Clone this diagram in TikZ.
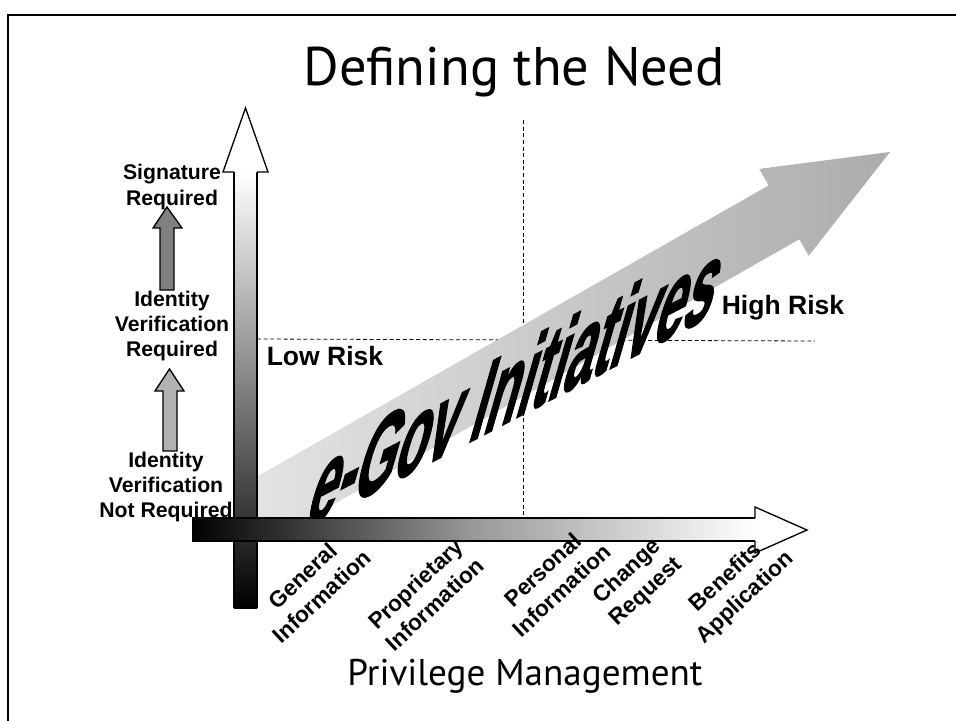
\documentclass[tikz,border=0pt]{standalone}
\usepackage{fontspec}
\setmainfont{Liberation Sans}
\newfontfamily\slidefont{PT Sans}
\newfontfamily\heavyfont{Liberation Sans}[BoldFeatures={FakeBold=2}]

\tikzset{
  level/.style = {font=\bfseries\fontsize{16}{19}\selectfont, align=center},
  info/.style = {font=\bfseries\fontsize{17}{21}\selectfont, align=center, rotate=43},
  risk/.style = {font=\bfseries\fontsize{20}{24}\selectfont},
  guide/.style = {dash pattern=on 3pt off 2pt, line width=0.6pt},
  outline/.style = {line width=1pt}
}

\begin{document}
\begin{tikzpicture}[x=0.0265cm, y=-0.0265cm, inner sep=0pt]
\useasboundingbox (0,0) rectangle (956,721);
\draw[line width=2.2pt] (8,721) -- (8,15) -- (956,15);
\node[font=\slidefont\fontsize{41}{48}\selectfont, anchor=base] (title) at (514,85) {Defining the Need};

\draw[guide] (523,120) -- (523,517);
\draw[guide] (257,339) -- (815,341);

% e-Gov arrow, cut off by the axes
\begin{scope}
\clip (246,100) rectangle (956,529);
\shade[shift={(240,522)}, rotate=29.65, left color=gray!20, right color=gray!65]
  (0,-31) -- (626,-31) -- (626,-50) -- (748,0) -- (626,50) -- (626,31) -- (0,31) -- cycle;
\end{scope}
\begin{scope}[shift={(518,381)}, cm={0.45,0.235,0.29,1.01,(0,0)}]
\node[transform shape, font=\heavyfont\bfseries\fontsize{88}{88}\selectfont] (egov) {e-Gov Initiatives};
\end{scope}

% axes
\shade[top color=white, bottom color=black, middle color=gray] (234,172) rectangle (257,608);
\draw[outline] (234,608) -- (234,172) (257,172) -- (257,608);
\filldraw[outline, fill=white] (234,172) -- (223,172) -- (245.5,108) -- (268,172) -- (257,172);
\shade[left color=black, right color=white, middle color=gray!80] (192,518) rectangle (755,541);
\draw[outline] (192,518) -- (755,518) (192,541) -- (755,541);
\filldraw[outline, fill=white] (755,518) -- (755,507) -- (807,530) -- (755,553) -- (755,541);

\node[level] (sig) at (172,187) {Signature\\Required};
\node[level] (idreq) at (172,326) {Identity\\Verification\\Required};
\node[level] (idnot) at (166,487) {Identity\\Verification\\Not Required};
\filldraw[outline, fill=black!50] (160,290) -- (160,228) -- (153,228) -- (167,207) -- (182,228) -- (174,228) -- (174,290) -- cycle;
\filldraw[outline, fill=black!30] (163,451) -- (163,391) -- (155,391) -- (169.5,369) -- (184,391) -- (177,391) -- (177,451) -- cycle;

\node[risk] (low) at (325,356) {Low Risk};
\node[risk] (high) at (783,308) {High Risk};

\node[info] (general) at (312,586) {General\\Information};
\node[info] (proprietary) at (425,594) {Proprietary\\Information};
\node[info] (personal) at (552,580) {Personal\\Information};
\node[info] (change) at (637,582) {Change\\Request};
\node[info] (benefits) at (736,588) {Benefits\\Application};

\node[font=\slidefont\fontsize{28}{34}\selectfont, anchor=base] (priv) at (525,685) {Privilege Management};
\end{tikzpicture}
\end{document}
